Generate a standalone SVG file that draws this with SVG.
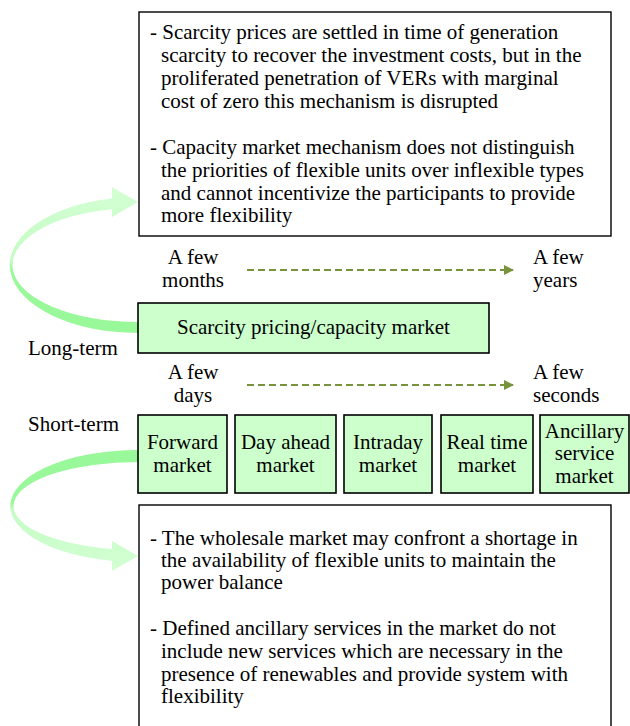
<svg xmlns="http://www.w3.org/2000/svg" width="630" height="726" viewBox="0 0 630 726">
<style>
text{font-family:"Liberation Serif","Times New Roman",serif;font-size:21px;fill:#000}
.c{text-anchor:middle}
.box{fill:#fff;stroke:#000;stroke-width:1.4}
.g{fill:#ccffcc;stroke:#000;stroke-width:1.6}
.dash{stroke:#77933c;stroke-width:2;stroke-dasharray:7 4;fill:none}
</style>
<defs>
<marker id="ah" viewBox="0 0 10 10" refX="9" refY="5" markerWidth="5" markerHeight="5" orient="auto" markerUnits="strokeWidth">
<path d="M0,0 L10,5 L0,10 Z" fill="#77933c"/>
</marker>
<linearGradient id="gUp" gradientUnits="userSpaceOnUse" x1="0" y1="187" x2="0" y2="333">
<stop offset="0" stop-color="#d4ffd4"/>
<stop offset="0.5" stop-color="#c4fcc4"/>
<stop offset="0.56" stop-color="#99f899"/>
<stop offset="1" stop-color="#99f899"/>
</linearGradient>
<linearGradient id="gDn" gradientUnits="userSpaceOnUse" x1="0" y1="450" x2="0" y2="571">
<stop offset="0" stop-color="#99f899"/>
<stop offset="0.44" stop-color="#99f899"/>
<stop offset="0.5" stop-color="#c4fcc4"/>
<stop offset="1" stop-color="#d4ffd4"/>
</linearGradient>
</defs>

<g id="connectors">
<path id="curve-long" d="M138,333 A128,68 0 0 1 112,198.4 L112,187 L138,202 L112,217 L112,209.2 A125,57 0 0 0 138,322 Z" fill="url(#gUp)"/>
<path id="curve-short" d="M138,450 A128,56 0 0 0 112,560.8 L112,571 L138,556 L112,541 L112,549 A125,44 0 0 1 138,462 Z" fill="url(#gDn)"/>
<line class="dash" x1="247" y1="270" x2="513" y2="270" marker-end="url(#ah)"/>
<line class="dash" x1="247" y1="385" x2="513" y2="385" marker-end="url(#ah)"/>
</g>

<g id="top-box">
<rect class="box" x="139" y="12" width="472" height="224"/>
<text x="150" y="39">- Scarcity prices are settled in time of generation</text>
<text x="161" y="62">scarcity to recover the investment costs, but in the</text>
<text x="161" y="85">proliferated penetration of VERs with marginal</text>
<text x="161" y="108">cost of zero this mechanism is disrupted</text>
<text x="150" y="154">- Capacity market mechanism does not distinguish</text>
<text x="161" y="177">the priorities of flexible units over inflexible types</text>
<text x="161" y="200">and cannot incentivize the participants to provide</text>
<text x="161" y="222">more flexibility</text>
</g>

<g id="label-months">
<text class="c" x="193" y="264">A few</text>
<text class="c" x="193" y="287">months</text>
</g>
<g id="label-years">
<text x="533" y="264">A few</text>
<text x="533" y="287">years</text>
</g>

<g id="long-term-label"><text x="28" y="355">Long-term</text></g>

<g id="scarcity-box">
<rect class="g" x="138" y="303" width="351" height="50"/>
<text class="c" x="313.5" y="334">Scarcity pricing/capacity market</text>
</g>

<g id="label-days">
<text class="c" x="193" y="379">A few</text>
<text class="c" x="193" y="402">days</text>
</g>
<g id="label-seconds">
<text x="533" y="379">A few</text>
<text x="533" y="402">seconds</text>
</g>

<g id="short-term-label"><text x="28" y="431">Short-term</text></g>

<g id="forward">
<rect class="g" x="138" y="415" width="89" height="78"/>
<text class="c" x="182.5" y="449">Forward</text>
<text class="c" x="182.5" y="472">market</text>
</g>
<g id="dayahead">
<rect class="g" x="235" y="415" width="101" height="78"/>
<text class="c" x="285.5" y="449">Day ahead</text>
<text class="c" x="285.5" y="472">market</text>
</g>
<g id="intraday">
<rect class="g" x="344" y="415" width="88" height="78"/>
<text class="c" x="388" y="449">Intraday</text>
<text class="c" x="388" y="472">market</text>
</g>
<g id="realtime">
<rect class="g" x="441" y="415" width="92" height="78"/>
<text class="c" x="487" y="449">Real time</text>
<text class="c" x="487" y="472">market</text>
</g>
<g id="ancillary">
<rect class="g" x="540" y="415" width="89" height="78"/>
<text class="c" x="584.5" y="438">Ancillary</text>
<text class="c" x="584.5" y="460">service</text>
<text class="c" x="584.5" y="483">market</text>
</g>

<g id="bottom-box">
<rect class="box" x="139" y="505" width="472" height="230"/>
<text x="150" y="545">- The wholesale market may confront a shortage in</text>
<text x="161" y="567">the availability of flexible units to maintain the</text>
<text x="161" y="589">power balance</text>
<text x="150" y="635">- Defined ancillary services in the market do not</text>
<text x="161" y="658">include new services which are necessary in the</text>
<text x="161" y="681">presence of renewables and provide system with</text>
<text x="161" y="703">flexibility</text>
</g>
</svg>
